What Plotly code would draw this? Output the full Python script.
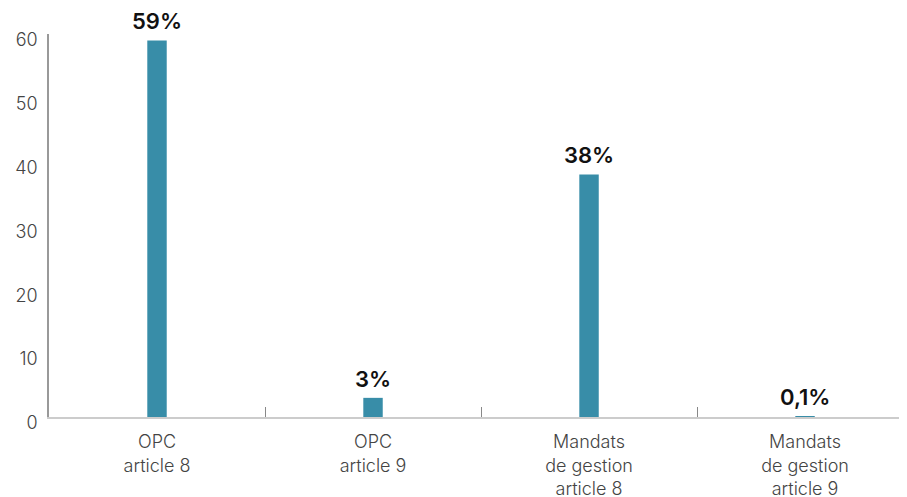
import plotly.graph_objects as go

categories = ["OPC<br>article 8", "OPC<br>article 9",
              "Mandats<br>de gestion<br>article 8", "Mandats<br>de gestion<br>article 9"]
values = [59, 3, 38, 0.1]
value_labels = ["59%", "3%", "38%", "0,1%"]
y_ticks = [0, 10, 20, 30, 40, 50, 60]

bar_color = "#388DA8"
font_family = "Inter, 'Open Sans', sans-serif"

fig = go.Figure()
fig.add_trace(go.Bar(
    x=categories, y=values,
    marker=dict(color=bar_color, line=dict(width=0)),
    width=0.09,
    hoverinfo="skip",
))

for c, v, t in zip(categories, values, value_labels):
    fig.add_annotation(x=c, y=v, text=t, showarrow=False, yanchor="bottom",
                       yshift=4, font=dict(family=font_family, size=22, color="#111111", weight=600))

fig.update_layout(
    width=899, height=489,
    margin=dict(l=41, r=0, t=26, b=80, autoexpand=False),
    plot_bgcolor="white", paper_bgcolor="white",
    showlegend=False,
    font=dict(family=font_family, color="#444444"),
    xaxis=dict(
        range=[-0.5, 3.472],
        showgrid=False, automargin=False,
        showline=True, linecolor="#cccccc", linewidth=1.5,
        ticks="inside", tickson="boundaries", ticklen=10, tickcolor="#888888", tickwidth=1,
        ticklabelstandoff=8,
        tickfont=dict(size=18, color="#444444", family=font_family, weight=300),
        fixedrange=True,
    ),
    yaxis=dict(
        range=[0, 60],
        tickvals=y_ticks,
        showgrid=False, zeroline=False, automargin=False,
        showline=True, linecolor="#999999", linewidth=1.5,
        ticks="",
        ticklabelstandoff=6,
        ticklabelshift=6,
        tickfont=dict(size=18, color="#444444", family=font_family, weight=300),
        fixedrange=True,
    ),
)

fig.write_html("out.html")
